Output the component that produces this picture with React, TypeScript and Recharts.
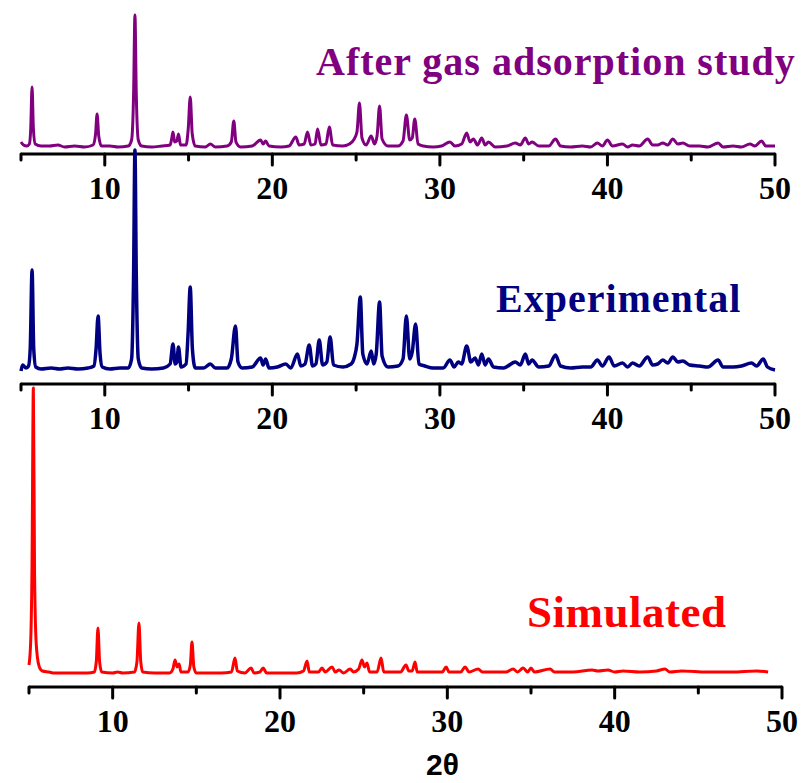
import { LineChart, Line, XAxis, YAxis } from "recharts"

// 2θ positions shared by all three panels
const ticks2Theta = [5, 10, 15, 20, 25, 30, 35, 40, 45, 50]

// [2θ, intensity a.u.]
const afterGas: [number, number][] = [
  [5.0, 12], [5.15, 9], [5.35, 8], [5.5, 10], [5.58, 25], [5.66, 67], [5.74, 25], [5.85, 10],
  [6.2, 8], [6.7, 8], [7.2, 9], [7.6, 7], [8.2, 8], [8.8, 7], [9.3, 9], [9.45, 20], [9.54, 40],
  [9.64, 18], [9.8, 8], [10.3, 8], [10.8, 7], [11.4, 8], [11.6, 14], [11.72, 60], [11.8, 139],
  [11.88, 60], [12.0, 14], [12.2, 8], [12.8, 7], [13.4, 8], [13.9, 9], [14.0, 16], [14.07, 22],
  [14.17, 12], [14.3, 13], [14.4, 20], [14.52, 9], [14.85, 9], [14.98, 25], [15.1, 57], [15.22, 20],
  [15.4, 8], [16.0, 7], [16.3, 10], [16.6, 7], [17.3, 8], [17.55, 12], [17.7, 33], [17.83, 12],
  [18.1, 7], [18.8, 8], [19.3, 14], [19.45, 10], [19.6, 13], [19.8, 8], [20.5, 7], [21.0, 8],
  [21.4, 17], [21.6, 9], [21.9, 10], [22.1, 22], [22.3, 9], [22.55, 10], [22.7, 25], [22.9, 9],
  [23.2, 10], [23.4, 27], [23.6, 9], [24.2, 8], [24.6, 10], [24.85, 14], [25.05, 22], [25.2, 51],
  [25.35, 16], [25.6, 9], [25.9, 18], [26.1, 10], [26.25, 18], [26.4, 48], [26.55, 15], [26.9, 8],
  [27.5, 8], [27.8, 13], [28.0, 39], [28.2, 14], [28.35, 16], [28.5, 35], [28.7, 10], [29.0, 8],
  [29.6, 7], [30.1, 8], [30.6, 12], [30.9, 8], [31.3, 10], [31.6, 21], [31.8, 12], [32.0, 15],
  [32.25, 9], [32.5, 16], [32.7, 9], [32.9, 12], [33.3, 7], [34.0, 8], [34.5, 11], [34.8, 9],
  [35.1, 16], [35.3, 10], [35.5, 12], [35.9, 8], [36.5, 8], [36.9, 15], [37.2, 8], [37.8, 7],
  [38.5, 8], [39.0, 7], [39.4, 11], [39.7, 8], [40.0, 14], [40.3, 8], [40.9, 10], [41.2, 7],
  [41.5, 9], [41.9, 8], [42.4, 15], [42.7, 9], [43.0, 9], [43.3, 11], [43.6, 9], [43.9, 15],
  [44.2, 10], [44.5, 11], [44.9, 8], [45.5, 8], [46.0, 7], [46.6, 11], [46.9, 7], [47.5, 8],
  [48.0, 7], [48.5, 10], [48.8, 8], [49.2, 13], [49.45, 8], [50.0, 8],
]

const experimental: [number, number][] = [
  [5.0, 13], [5.1, 19], [5.3, 16], [5.45, 18], [5.55, 35], [5.66, 114], [5.76, 35], [5.88, 17],
  [6.2, 15], [6.8, 16], [7.3, 15], [7.8, 16], [8.4, 15], [9.0, 16], [9.35, 18], [9.48, 35],
  [9.6, 68], [9.72, 30], [9.85, 17], [10.3, 15], [10.9, 16], [11.4, 16], [11.6, 25], [11.72, 110],
  [11.8, 234], [11.88, 110], [12.0, 25], [12.2, 16], [12.8, 15], [13.5, 16], [13.9, 20], [14.07, 40],
  [14.2, 20], [14.3, 22], [14.4, 37], [14.55, 17], [14.85, 20], [14.97, 50], [15.1, 97], [15.23, 35],
  [15.4, 16], [15.9, 16], [16.3, 20], [16.6, 16], [17.3, 16], [17.55, 25], [17.8, 58], [17.95, 22],
  [18.2, 16], [18.8, 17], [19.3, 26], [19.45, 19], [19.6, 25], [19.8, 16], [20.3, 17], [20.8, 20],
  [21.1, 16], [21.5, 30], [21.7, 18], [21.95, 20], [22.2, 39], [22.4, 18], [22.6, 20], [22.8, 44],
  [23.0, 19], [23.25, 22], [23.45, 47], [23.65, 19], [24.2, 17], [24.7, 20], [24.9, 27], [25.05, 40],
  [25.25, 87], [25.4, 30], [25.65, 20], [25.9, 33], [26.05, 20], [26.2, 30], [26.4, 82], [26.55, 28],
  [26.9, 17], [27.5, 18], [27.8, 25], [28.0, 68], [28.2, 25], [28.35, 32], [28.55, 60], [28.75, 20],
  [29.1, 18], [29.6, 16], [30.2, 16], [30.6, 24], [30.85, 17], [31.1, 22], [31.3, 20], [31.6, 38],
  [31.85, 22], [32.1, 26], [32.3, 19], [32.5, 30], [32.7, 19], [32.9, 25], [33.2, 17], [33.8, 16],
  [34.5, 22], [34.8, 19], [35.1, 30], [35.3, 20], [35.5, 24], [35.9, 17], [36.5, 18], [36.9, 29],
  [37.2, 18], [37.8, 16], [38.5, 17], [39.0, 17], [39.4, 24], [39.7, 18], [40.1, 27], [40.4, 18],
  [40.9, 21], [41.2, 17], [41.5, 21], [41.9, 18], [42.4, 27], [42.7, 19], [43.0, 20], [43.3, 24],
  [43.6, 21], [43.9, 27], [44.2, 22], [44.5, 23], [44.9, 19], [45.5, 18], [46.0, 17], [46.6, 24],
  [46.9, 17], [47.5, 17], [48.0, 18], [48.6, 21], [48.9, 18], [49.3, 25], [49.55, 17], [50.0, 14],
]

const simulated: [number, number][] = [
  [5.0, 22], [5.1, 45], [5.18, 120], [5.26, 299], [5.33, 120], [5.4, 55], [5.5, 30], [5.62, 20],
  [5.8, 16], [6.2, 15], [6.5, 14], [7.5, 14], [8.5, 14], [8.9, 15], [9.02, 25], [9.12, 59], [9.22, 25],
  [9.35, 15], [10.0, 14], [10.3, 15], [10.6, 14], [11.3, 15], [11.45, 25], [11.57, 64], [11.68, 25],
  [11.8, 15], [12.5, 14], [13.4, 14], [13.6, 18], [13.73, 27], [13.85, 20], [13.97, 23], [14.08, 15],
  [14.5, 15], [14.64, 22], [14.74, 45], [14.85, 20], [15.0, 14], [16.5, 14], [17.1, 15], [17.31, 29],
  [17.45, 16], [17.9, 14], [18.27, 19], [18.45, 14], [18.8, 15], [18.99, 19], [19.2, 14], [21.0, 14],
  [21.4, 16], [21.62, 26], [21.75, 15], [22.3, 15], [22.51, 19], [22.7, 15], [23.11, 20], [23.3, 15],
  [23.53, 17], [23.8, 14], [24.19, 18], [24.4, 15], [24.7, 18], [24.9, 27], [25.05, 20], [25.2, 24],
  [25.35, 15], [25.8, 15], [26.04, 29], [26.2, 15], [27.2, 15], [27.53, 22], [27.7, 16], [27.9, 16],
  [28.07, 25], [28.2, 15], [29.7, 15], [29.93, 20], [30.1, 15], [30.8, 15], [31.06, 20], [31.3, 15],
  [31.84, 18], [32.1, 15], [33.5, 15], [33.93, 18], [34.2, 15], [34.53, 19], [34.8, 15], [35.0, 19],
  [35.2, 15], [36.14, 18], [36.4, 15], [37.5, 15], [38.65, 17], [39.0, 16], [39.6, 17], [40.0, 15],
  [40.5, 16], [41.5, 15], [42.5, 16], [43.0, 18], [43.3, 15], [44.0, 16], [45.5, 15], [47.0, 15],
  [48.5, 16], [49.17, 15],
]

const toRows = (pts: [number, number][]) => pts.map(([x, y]) => ({ x, y }))

const serif = "'Liberation Serif', 'Times New Roman', serif"
const AXIS_H = 62

function AxisTick(props: any) {
  const { x, y, payload } = props
  const major = payload.value % 10 === 0
  return (
    <g>
      <line x1={x} y1={y} x2={x} y2={y + (major ? 11 : 6)} stroke="#000" strokeWidth={3} strokeLinecap="round" />
      {major && (
        <text x={x} y={y + 34} textAnchor="middle" dominantBaseline="central"
          fontFamily={serif} fontWeight="bold" fontSize={32} fill="#000">
          {payload.value}
        </text>
      )}
    </g>
  )
}

type PanelProps = {
  rows: { x: number; y: number }[]
  color: string
  width: number
  top: number
  plotTop: number
  axisY: number
  left: number
  right: number
  yMax: number
}

function Panel({ rows, color, width, top, plotTop, axisY, left, right, yMax }: PanelProps) {
  const mTop = plotTop - top
  const height = axisY - top + AXIS_H
  return (
    <div style={{ position: "absolute", left: 0, top }}>
      <LineChart width={803} height={height} data={rows}
        margin={{ top: mTop, right: 803 - right, left, bottom: 0 }}>
        <XAxis dataKey="x" type="number" domain={[5, 50]} ticks={ticks2Theta} interval={0}
          height={AXIS_H} tickSize={0} tickMargin={0} tickLine={false}
          axisLine={{ stroke: "#000", strokeWidth: 3 }} tick={<AxisTick />} />
        <YAxis hide width={0} domain={[0, yMax]} />
        <Line type="monotone" dataKey="y" stroke={color} strokeWidth={width} dot={false}
          isAnimationActive={false} strokeLinejoin="round" />
      </LineChart>
    </div>
  )
}

export default function App() {
  return (
    <div style={{ position: "absolute", left: 0, top: 0, width: 803, height: 783, background: "#fff" }}>
      <Panel rows={toRows(afterGas)} color="#800080" width={3} top={0} plotTop={12} axisY={154}
        left={21} right={775} yMax={142} />
      <Panel rows={toRows(experimental)} color="#000080" width={3.5} top={140} plotTop={150} axisY={384}
        left={21} right={775} yMax={234} />
      <Panel rows={toRows(simulated)} color="#ff0000" width={3} top={378} plotTop={388} axisY={687}
        left={29} right={782} yMax={299} />
      <svg width={803} height={783} style={{ position: "absolute", left: 0, top: 0, pointerEvents: "none" }}>
        <text x={316} y={74.5} fontFamily={serif} fontWeight="bold" fontSize={40} letterSpacing={1} fill="#800080">
          After gas adsorption study
        </text>
        <text x={496} y={312} fontFamily={serif} fontWeight="bold" fontSize={40} letterSpacing={1} fill="#000080">
          Experimental
        </text>
        <text x={527} y={627} fontFamily={serif} fontWeight="bold" fontSize={45} letterSpacing={0.5} fill="#ff0000">
          Simulated
        </text>
        <text x={426} y={775} fontFamily="'Liberation Sans', Arial, sans-serif" fontWeight="bold" fontSize={30} fill="#000">
          2θ
        </text>
      </svg>
    </div>
  )
}
